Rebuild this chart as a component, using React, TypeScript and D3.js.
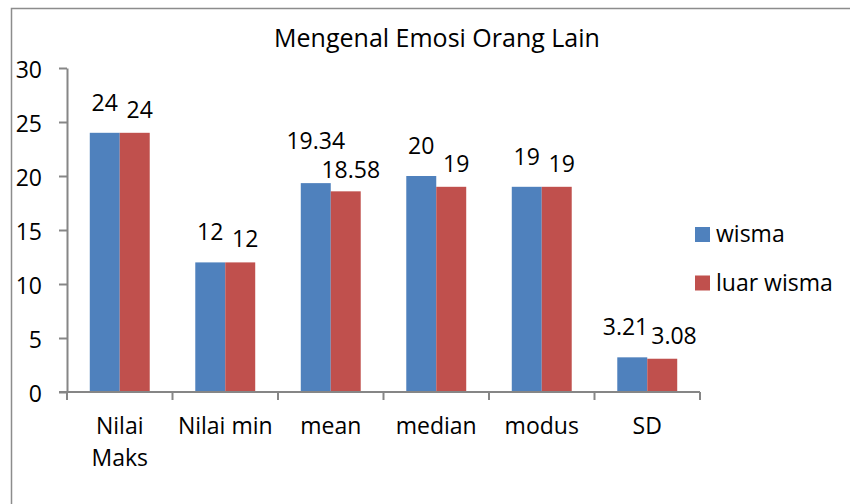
import { useEffect, useRef } from "react";
import { select, scaleLinear, scaleBand, axisLeft } from "d3";

// data
const categories = ["Nilai Maks", "Nilai min", "mean", "median", "modus", "SD"];
const series = ["wisma", "luar wisma"];
const wisma = [24, 12, 19.34, 20, 19, 3.21];
const luarWisma = [24, 12, 18.58, 19, 19, 3.08];
const yTicks = [0, 5, 10, 15, 20, 25, 30];
const title = "Mengenal Emosi Orang Lain";

const width = 850;
const height = 504;
const plot = { left: 67, right: 700, top: 68, bottom: 392 };
const color = ["#4F81BD", "#C0504D"];
const axisColor = "#868686";
const font = "'Open Sans', sans-serif";
const fontSize = 23;

// D3 text wrap for long category names
function wrap(sel: any, w: number) {
  sel.each(function (this: SVGTextElement) {
    const text = select(this);
    const words = text.text().split(/\s+/);
    const x = text.attr("x");
    const y = text.attr("y");
    text.text(null);
    let line: string[] = [];
    let lineNo = 0;
    let tspan = text.append("tspan").attr("x", x).attr("y", y);
    words.forEach((word) => {
      line.push(word);
      tspan.text(line.join(" "));
      if ((tspan.node() as SVGTSpanElement).getComputedTextLength() > w && line.length > 1) {
        line.pop();
        tspan.text(line.join(" "));
        line = [word];
        lineNo++;
        tspan = text
          .append("tspan")
          .attr("x", x)
          .attr("y", +y + lineNo * 32)
          .text(word);
      }
    });
  });
}

export default function App() {
  const ref = useRef<SVGSVGElement>(null);

  useEffect(() => {
    if (!ref.current) return;
    const svg = select(ref.current);
    svg.selectAll("*").remove();

    const values = [wisma, luarWisma];

    const x0 = scaleBand<string>().domain(categories).range([plot.left, plot.right]).paddingInner(0);
    const x1 = scaleBand<string>()
      .domain(series)
      .range([0, x0.bandwidth()])
      .paddingInner(0)
      .paddingOuter(0.76);
    const y = scaleLinear().domain([0, 30]).range([plot.bottom, plot.top]);

    // outer chart border
    svg
      .append("rect")
      .attr("x", 11.5)
      .attr("y", 8.5)
      .attr("width", width + 20)
      .attr("height", height + 20)
      .attr("fill", "white")
      .attr("stroke", "#8c8c8c")
      .attr("stroke-width", 1.5);

    // title
    svg
      .append("text")
      .attr("x", 437)
      .attr("y", 47)
      .attr("text-anchor", "middle")
      .attr("font-family", font)
      .attr("font-size", 25)
      .attr("fill", "#000")
      .text(title);

    // bars
    const groups = svg
      .append("g")
      .selectAll("g")
      .data(categories)
      .enter()
      .append("g")
      .attr("transform", (d) => `translate(${x0(d)},0)`);

    const labels: any[] = [];
    series.forEach((s, si) => {
      groups
        .append("rect")
        .attr("x", x1(s) as number)
        .attr("y", (d, i) => y(values[si][i]))
        .attr("width", x1.bandwidth())
        .attr("height", (d, i) => plot.bottom - y(values[si][i]))
        .attr("fill", color[si]);

      // value labels, Excel-ish placement
      labels[si] = groups
        .append("text")
        .attr("x", (x1(s) as number) + x1.bandwidth() / 2 + (si === 1 ? 5 : 0))
        .attr("y", (d, i) => y(values[si][i]) - (si === 0 ? 22 : 15))
        .attr("text-anchor", "middle")
        .attr("font-family", font)
        .attr("font-size", fontSize)
        .attr("fill", "#000")
        .text((d, i) => String(values[si][i]));
    });

    // resolve colliding label pairs: small overlap -> push apart, big -> stack
    const blueNodes = labels[0].nodes() as SVGTextElement[];
    const redNodes = labels[1].nodes() as SVGTextElement[];
    categories.forEach((c, i) => {
      const b = select(blueNodes[i]);
      const r = select(redNodes[i]);
      const bx = +b.attr("x");
      const rx = +r.attr("x");
      const wb = blueNodes[i].getComputedTextLength();
      const wr = redNodes[i].getComputedTextLength();
      const overlap = bx + wb / 2 + 3 - (rx - wr / 2);
      if (overlap <= 0) return;
      if (overlap <= 18) {
        b.attr("x", bx - overlap / 2);
        r.attr("x", rx + overlap / 2);
      } else {
        const ry = y(values[1][i]) - 13;
        r.attr("y", ry);
        b.attr("y", Math.min(+b.attr("y"), ry - 29));
      }
    });

    // y axis
    const yAxis = svg
      .append("g")
      .attr("transform", `translate(${plot.left},0)`)
      .call(axisLeft(y).tickValues(yTicks).tickSize(8).tickPadding(17).tickSizeOuter(0));
    yAxis.select(".domain").attr("stroke", axisColor).attr("stroke-width", 2);
    yAxis.selectAll(".tick line").attr("stroke", axisColor).attr("stroke-width", 2);
    yAxis
      .selectAll(".tick text")
      .attr("font-family", font)
      .attr("font-size", fontSize)
      .attr("fill", "#000")
      .attr("dy", "0.42em");

    // x axis: line and ticks between categories
    const xAxis = svg.append("g");
    xAxis
      .append("line")
      .attr("x1", plot.left - 8)
      .attr("x2", plot.right)
      .attr("y1", plot.bottom)
      .attr("y2", plot.bottom)
      .attr("stroke", axisColor)
      .attr("stroke-width", 2);
    const edges = categories.map((c) => x0(c) as number).concat([plot.right]);
    xAxis
      .selectAll(".xt")
      .data(edges)
      .enter()
      .append("line")
      .attr("x1", (d) => d)
      .attr("x2", (d) => d)
      .attr("y1", plot.bottom)
      .attr("y2", plot.bottom + 8)
      .attr("stroke", axisColor)
      .attr("stroke-width", 2);
    xAxis
      .selectAll(".xl")
      .data(categories)
      .enter()
      .append("text")
      .attr("x", (d) => (x0(d) as number) + x0.bandwidth() / 2)
      .attr("y", 434)
      .attr("text-anchor", "middle")
      .attr("font-family", font)
      .attr("font-size", fontSize)
      .attr("fill", "#000")
      .text((d) => d)
      .call(wrap, x0.bandwidth() - 2);

    // legend
    const legend = svg
      .append("g")
      .selectAll("g")
      .data(series)
      .enter()
      .append("g")
      .attr("transform", (d, i) => `translate(695,${234 + i * 48.5})`);
    legend
      .append("rect")
      .attr("x", 0)
      .attr("y", -7)
      .attr("width", 15)
      .attr("height", 15)
      .attr("fill", (d, i) => color[i]);
    legend
      .append("text")
      .attr("x", 21)
      .attr("y", 8)
      .attr("font-family", font)
      .attr("font-size", fontSize)
      .attr("fill", "#000")
      .text((d) => d);
  }, []);

  return (
    <svg
      ref={ref}
      width={width}
      height={height}
      style={{ position: "absolute", left: 0, top: 0, background: "white" }}
    ></svg>
  );
}
